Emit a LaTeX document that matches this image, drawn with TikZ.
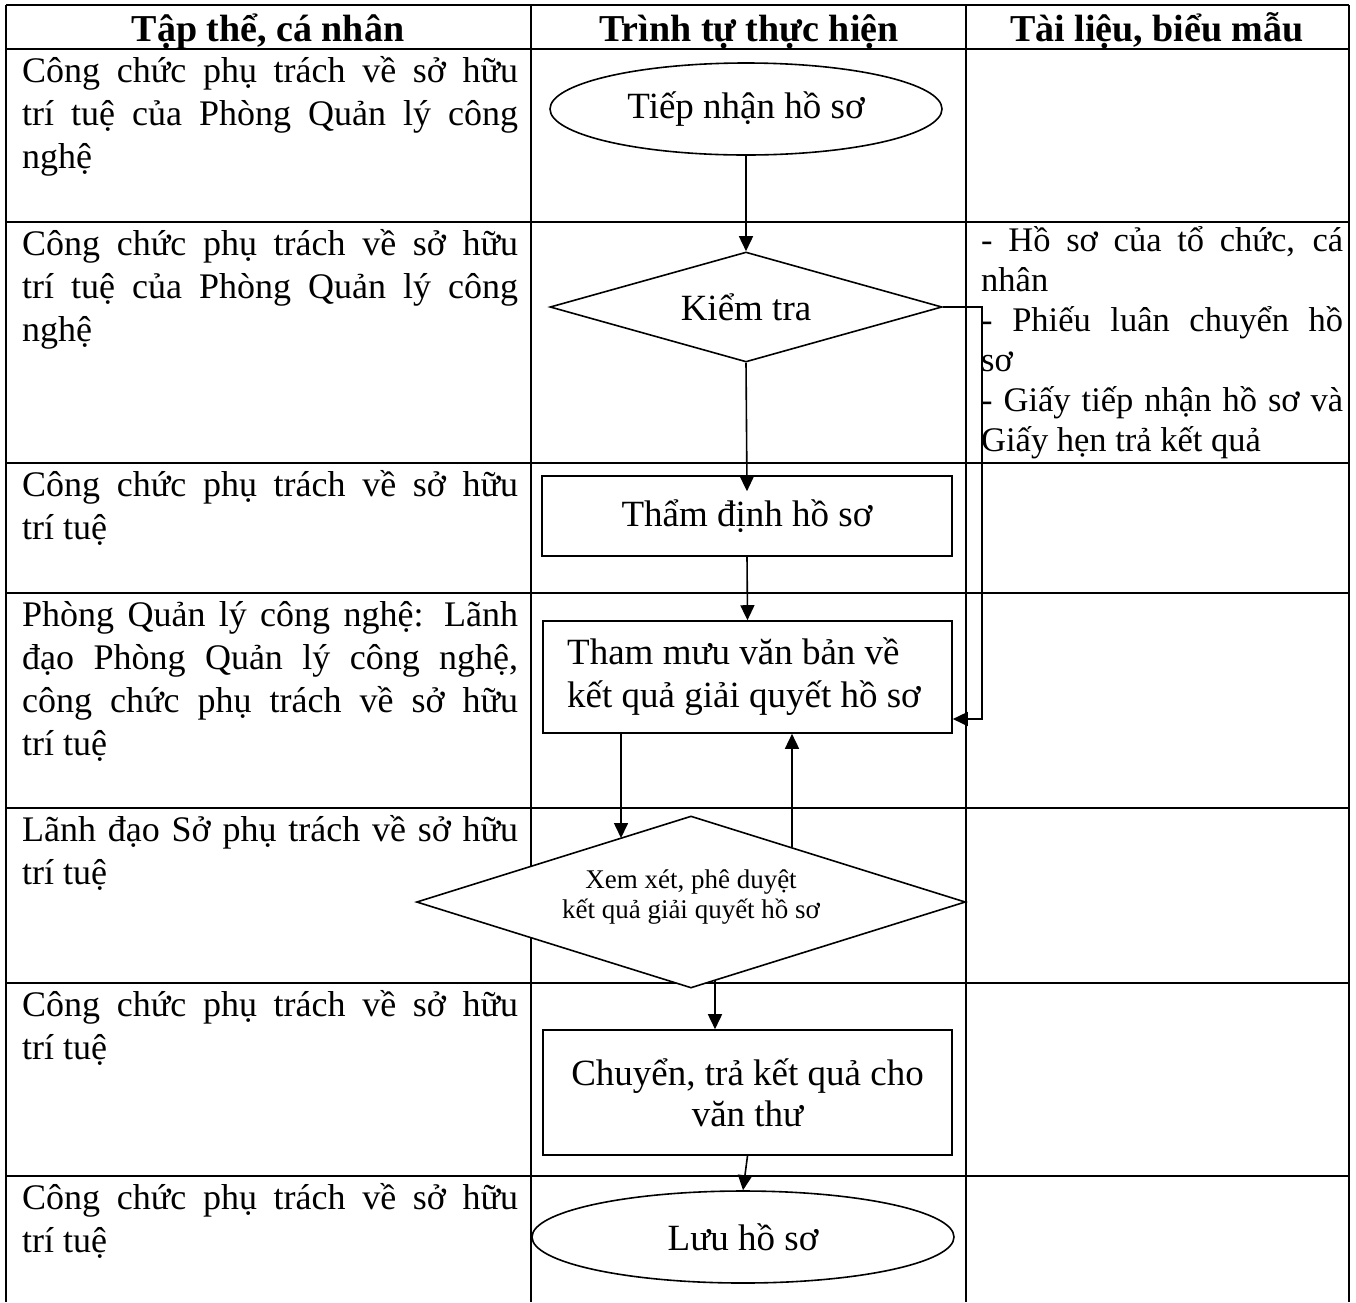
\documentclass[tikz,border=0pt]{standalone}
\usepackage{fontspec}
\setmainfont{Liberation Serif}
\usetikzlibrary{arrows.meta,shapes.geometric,calc}
\newcommand{\jl}[2]{\makebox[#1][s]{#2}}
\begin{document}
\begin{tikzpicture}[x=1pt,y=-1pt,
  grid/.style={line width=2pt},
  shp/.style={draw,line width=1.6pt,fill=white,inner sep=0pt},
  arr/.style={line width=1.6pt,-{Triangle[length=15pt,width=14pt]}},
  cell/.style={anchor=base west,inner sep=0pt,font=\fontsize{36}{43}\selectfont},
  rcell/.style={anchor=base west,inner sep=0pt,font=\fontsize{34.5}{40}\selectfont},
  head/.style={anchor=base,inner sep=0pt,font=\fontsize{38}{43}\selectfont\bfseries},
  flow/.style={font=\fontsize{37}{41}\selectfont,align=center},
  ftxt/.style={inner sep=0pt,font=\fontsize{37}{43}\selectfont,align=left},
  stxt/.style={inner sep=0pt,font=\fontsize{27}{30}\selectfont,align=center}
]
\useasboundingbox (0,0) rectangle (1356,1302);
% table grid
\foreach \yy in {5,49,222,463,593,808,983,1176}
  \draw[grid] (6,\yy) -- (1349,\yy);
\foreach \xx in {6,531,966,1349}
  \draw[grid] (\xx,5) -- (\xx,1302);
% header
\node[head] (h1) at (268,41) {Tập thể, cá nhân};
\node[head] (h2) at (749,41) {Trình tự thực hiện};
\node[head] (h3) at (1157,41) {Tài liệu, biểu mẫu};
% column 1
\node[cell] (a1) at (22,82) {\jl{496pt}{Công chức phụ trách về sở hữu}};
\node[cell] (a2) at (22,125) {\jl{496pt}{trí tuệ của Phòng Quản lý công}};
\node[cell] (a3) at (22,168) {nghệ};
\node[cell] (b1) at (22,255) {\jl{496pt}{Công chức phụ trách về sở hữu}};
\node[cell] (b2) at (22,298) {\jl{496pt}{trí tuệ của Phòng Quản lý công}};
\node[cell] (b3) at (22,341) {nghệ};
\node[cell] (c1) at (22,496) {\jl{496pt}{Công chức phụ trách về sở hữu}};
\node[cell] (c2) at (22,539) {trí tuệ};
\node[cell] (d1) at (22,626) {\jl{496pt}{Phòng Quản lý công nghệ: Lãnh}};
\node[cell] (d2) at (22,669) {\jl{496pt}{đạo Phòng Quản lý công nghệ,}};
\node[cell] (d3) at (22,712) {\jl{496pt}{công chức phụ trách về sở hữu}};
\node[cell] (d4) at (22,755) {trí tuệ};
\node[cell] (e1) at (22,841) {\jl{496pt}{Lãnh đạo Sở phụ trách về sở hữu}};
\node[cell] (e2) at (22,884) {trí tuệ};
\node[cell] (f1) at (22,1016) {\jl{496pt}{Công chức phụ trách về sở hữu}};
\node[cell] (f2) at (22,1059) {trí tuệ};
\node[cell] (g1) at (22,1209) {\jl{496pt}{Công chức phụ trách về sở hữu}};
\node[cell] (g2) at (22,1252) {trí tuệ};
% column 3
\node[rcell] (r1) at (981,251) {\jl{362pt}{- Hồ sơ của tổ chức, cá}};
\node[rcell] (r2) at (981,291) {nhân};
\node[rcell] (r3) at (981,331) {\jl{362pt}{- Phiếu luân chuyển hồ}};
\node[rcell] (r4) at (981,371) {sơ};
\node[rcell] (r5) at (981,411) {\jl{362pt}{- Giấy tiếp nhận hồ sơ và}};
\node[rcell] (r6) at (981,451) {Giấy hẹn trả kết quả};
% flow shapes
\node[shp,ellipse,minimum width=392pt,minimum height=92pt,flow] (tiep) at (746,109) {Tiếp nhận hồ sơ};
\node[shp,diamond,shape aspect=3.5,minimum width=392pt,minimum height=110pt,flow] (kiem) at (746,307) {Kiểm tra};
\node[shp,rectangle,minimum width=410pt,minimum height=80pt,flow] (tham) at (747,516) {Thẩm định hồ sơ};
\node[shp,rectangle,minimum width=409pt,minimum height=112pt] (muu) at (747.5,677) {};
\node[ftxt,anchor=west] (muut) at (567,677) {Tham mưu văn bản về\\kết quả giải quyết hồ sơ};
\node[shp,diamond,shape aspect=3,minimum width=549pt,minimum height=172pt] (xem) at (691,902) {};
\node[stxt] (xemt) at (691,897) {Xem xét, phê duyệt\\kết quả giải quyết hồ sơ};
\node[shp,rectangle,minimum width=409pt,minimum height=125pt,flow] (chuyen) at (747.5,1092.5) {Chuyển, trả kết quả cho\\văn thư};
\node[shp,ellipse,minimum width=422pt,minimum height=92pt,flow] (luu) at (743,1237) {Lưu hồ sơ};
% connectors
\coordinate (xa) at (621,838);
\coordinate (xb) at (792,847);
\coordinate (xc) at (715,980);
\coordinate (k1) at (982,307);
\coordinate (k2) at (982,719);
\draw[arr] (tiep.south) -- (kiem.north);
\draw[arr] (kiem.south) -- ($(tham.north)+(0,16)$);
\draw[arr] (tham.south) -- (muu.north);
\draw[arr] (muu.south -| xa) -- (xa);
\draw[arr] (xb) -- (xb |- muu.south);
\draw[arr] (xc) -- (xc |- chuyen.north);
\draw[arr] (chuyen.south) -- (luu.north);
\draw[arr] (kiem.east) -- (k1) -- (k2) -- (k2 -| muu.east);
\end{tikzpicture}
\end{document}
